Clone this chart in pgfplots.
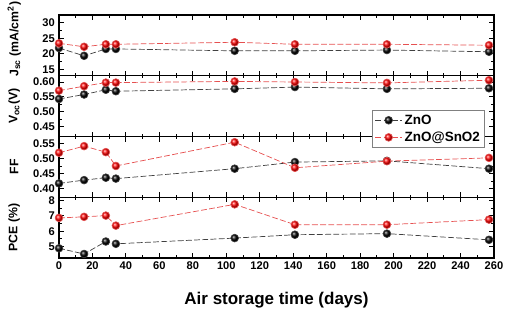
\documentclass[border=0pt]{standalone}
\usepackage{fontspec}
\setmainfont{Liberation Sans}
\usepackage{pgfplots}
\pgfplotsset{compat=1.18}
\usepgfplotslibrary{groupplots}
\definecolor{myred}{RGB}{255,0,0}
\definecolor{lred}{RGB}{230,80,80}
\begin{document}
\begin{tikzpicture}
\pgfplotsset{
  every axis/.append style={
    scale only axis, width=13.05cm, height=1.8225cm,
    xmin=0, xmax=260, xtick={0,20,...,260}, minor x tick num=1,
    tick align=inside, major tick length=0.15cm, minor tick length=0.08cm,
    axis line style={line width=1pt}, every tick/.style={black, line width=0.8pt},
    tick label style={font=\bfseries\fontsize{9.5}{11}\selectfont},
    /pgf/number format/assume math mode=true,
    ylabel style={font=\bfseries\fontsize{10.5}{12}\selectfont, at={(axis description cs:-0.103,0.5)}, anchor=center},
    minor y tick num=1,
  },
  zno/.style={black!75, line width=0.6pt, dash pattern=on 5pt off 2pt, mark=ball, mark size=3.3pt, mark options={solid, ball color=black}},
  sno/.style={lred, line width=0.6pt, dash pattern=on 5pt off 2pt, mark=ball, mark size=3.3pt, mark options={solid, ball color=myred}},
}
\begin{groupplot}[group style={group size=1 by 4, vertical sep=0pt, xticklabels at=edge bottom}]
\nextgroupplot[ymin=13, ymax=32.5, ytick={15,20,25,30}, ylabel={J$_{\mathbf{sc}}$ (mA/cm$^{\mathbf{2}}$)},
  ylabel style={at={(axis description cs:-0.103,0.6)}}]
\coordinate (tr) at (rel axis cs:1,1);
\addplot[zno] coordinates {(0,21.9) (15,19.4) (28,21.6) (34,21.6) (105,21.0) (141,21.0) (196,21.25) (257,20.7)};
\addplot[sno] coordinates {(0,23.4) (15,22.3) (28,23.1) (34,23.1) (105,23.75) (141,23.1) (196,23.1) (257,22.8)};
\nextgroupplot[ymin=0.417, ymax=0.621, ytick={0.45,0.50,0.55,0.60}, ylabel={V$_{\mathbf{oc}}$(V)},
  yticklabel style={/pgf/number format/.cd, fixed, fixed zerofill, precision=2}]
\addplot[zno] coordinates {(0,0.543) (15,0.558) (28,0.574) (34,0.569) (105,0.577) (141,0.583) (196,0.577) (257,0.579)};
\addplot[sno] coordinates {(0,0.571) (15,0.586) (28,0.598) (34,0.598) (105,0.602) (141,0.600) (196,0.597) (257,0.606)};
\nextgroupplot[ymin=0.371, ymax=0.573, ytick={0.40,0.45,0.50,0.55}, ylabel={FF},
  yticklabel style={/pgf/number format/.cd, fixed, fixed zerofill, precision=2},
  legend style={at={(rel axis cs:0.979,1.44)}, anchor=north east, draw=gray, fill=white,
    font=\bfseries\fontsize{11.5}{13}\selectfont, row sep=1pt, inner sep=2pt},
  legend cell align=left,
  legend image code/.code={\draw[mark repeat=2,mark phase=2] plot coordinates {(0cm,0cm) (0.4cm,0cm) (0.8cm,0cm)};}]
\addplot[zno] coordinates {(0,0.417) (15,0.428) (28,0.436) (34,0.433) (105,0.466) (141,0.488) (196,0.492) (257,0.466)};
\addlegendentry{ZnO}
\addplot[sno] coordinates {(0,0.519) (15,0.541) (28,0.521) (34,0.475) (105,0.554) (141,0.469) (196,0.491) (257,0.502)};
\addlegendentry{ZnO@SnO2}
\nextgroupplot[ymin=4.26, ymax=8.2, ytick={5,6,7,8}, ylabel={PCE (\%)},
  xlabel={Air storage time (days)}, xlabel style={font=\bfseries\fontsize{14.5}{16}\selectfont, yshift=-12pt}]
\coordinate (bl) at (rel axis cs:0,0);
\addplot[zno] coordinates {(0,4.89) (15,4.52) (28,5.33) (34,5.18) (105,5.55) (141,5.77) (196,5.84) (257,5.44)};
\addplot[sno] coordinates {(0,6.86) (15,6.93) (28,7.01) (34,6.36) (105,7.74) (141,6.42) (196,6.42) (257,6.75)};
\end{groupplot}
\pgfresetboundingbox
\path ([shift={(-1.77cm,-1.68cm)}]bl) rectangle ([shift={(0.48cm,0.45cm)}]tr);
\end{tikzpicture}
\end{document}
